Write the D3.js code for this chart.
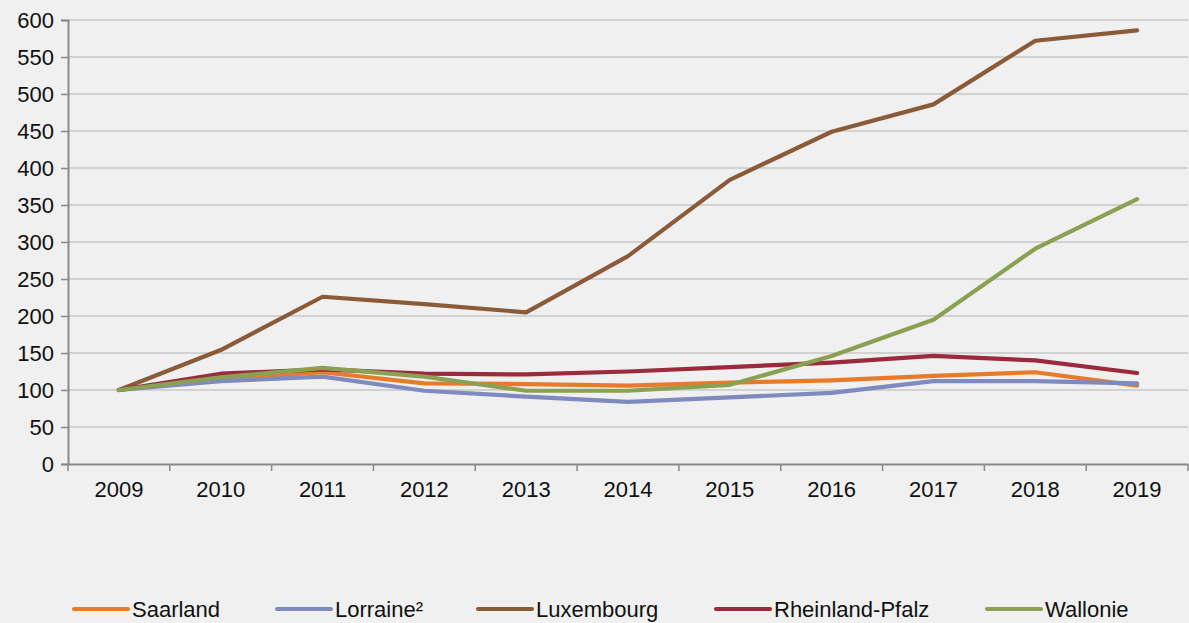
<!DOCTYPE html>
<html><head><meta charset="utf-8">
<script src="https://cdn.jsdelivr.net/npm/d3@7"></script>
<style>
html,body{margin:0;padding:0;background:#eff0ef;}
svg{display:block;font-family:"Liberation Sans",Arial,sans-serif;}
</style></head>
<body>
<svg id="c" width="1189" height="623"></svg>
<script>
const years = ["2009","2010","2011","2012","2013","2014","2015","2016","2017","2018","2019"];
const yTicks = [0,50,100,150,200,250,300,350,400,450,500,550,600];
const seriesNames = ["Saarland","Lorraine²","Luxembourg","Rheinland-Pfalz","Wallonie"];
const saarland   = [100,115,124,109,108,106,110,113,119,124,106];
const lorraine   = [100,112,118,99,91,84,90,96,112,112,109];
const luxembourg = [100,154,226,216,205,281,384,449,486,572,586];
const rheinland  = [100,122,128,122,121,125,131,137,146,140,123];
const wallonie   = [100,117,130,118,99,99,107,146,195,291,358];
const colors = ["#e87b2a","#7f8bbf","#8b5a38","#9b2a3c","#8aa052"];
const allSeries = [saarland,lorraine,luxembourg,rheinland,wallonie];

const svg = d3.select("#c");
const pLeft = 68, pRight = 1188, pTop = 20, pBottom = 464;
const x = d3.scaleBand().domain(years).range([pLeft,pRight]);
const y = d3.scaleLinear().domain([0,600]).range([pBottom,pTop]);
const fs = "22px";

// gridlines
svg.append("g").selectAll("line").data(yTicks.filter(d=>d>0)).join("line")
  .attr("x1",pLeft).attr("x2",pRight)
  .attr("y1",d=>y(d)).attr("y2",d=>y(d))
  .attr("stroke","#c8c8c8").attr("stroke-width",1.3);

// y axis
const yAx = svg.append("g").attr("transform",`translate(${pLeft},0)`)
  .call(d3.axisLeft(y).tickValues(yTicks).tickSize(7).tickPadding(7));
yAx.select(".domain").attr("stroke","#8a8a8a").attr("stroke-width",2);
yAx.selectAll(".tick line").attr("stroke","#8a8a8a").attr("stroke-width",1.5);
yAx.selectAll("text").attr("font-size",fs).attr("fill","#111").attr("font-family","Liberation Sans, Arial, sans-serif");

// x axis
const xAx = svg.append("g").attr("transform",`translate(0,${pBottom})`)
  .call(d3.axisBottom(x).tickSize(0).tickPadding(17));
xAx.select(".domain").attr("stroke","#8a8a8a").attr("stroke-width",2);
xAx.selectAll("text").attr("font-size",fs).attr("fill","#111").attr("font-family","Liberation Sans, Arial, sans-serif");
const bounds = years.map(d=>x(d)).concat([pRight]);
svg.append("g").selectAll("line").data(bounds).join("line")
  .attr("x1",d=>d).attr("x2",d=>d).attr("y1",pBottom).attr("y2",pBottom+7)
  .attr("stroke","#8a8a8a").attr("stroke-width",1.5);

// lines
const line = d3.line().x((d,i)=>x(years[i])+x.bandwidth()/2).y(d=>y(d));
allSeries.forEach((s,k)=>{
  svg.append("path").datum(s).attr("d",line)
    .attr("fill","none").attr("stroke",colors[k]).attr("stroke-width",4.2)
    .attr("stroke-linejoin","round").attr("stroke-linecap","round");
});

// legend
const legX = [74,277,478,716,987];
const legY = 609;
const lg = svg.append("g");
seriesNames.forEach((n,k)=>{
  lg.append("line").attr("x1",legX[k]).attr("x2",legX[k]+54).attr("y1",legY).attr("y2",legY)
    .attr("stroke",colors[k]).attr("stroke-width",4.2).attr("stroke-linecap","round");
  lg.append("text").attr("x",legX[k]+58).attr("y",legY).attr("dy","0.35em")
    .attr("font-size",fs).attr("fill","#111").text(n);
});
</script>
</body></html>
